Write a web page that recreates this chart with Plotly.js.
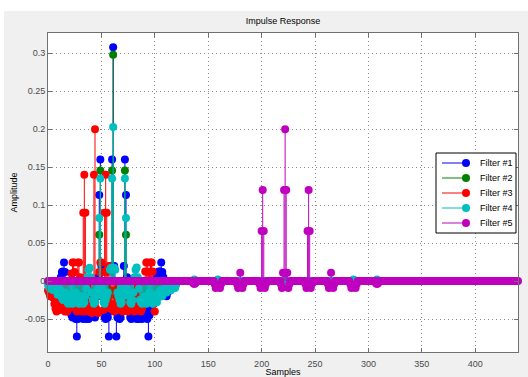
<!DOCTYPE html>
<html><head><meta charset="utf-8">
<script src="https://cdn.plot.ly/plotly-3.0.1.min.js"></script>
<style>
html,body{margin:0;padding:0;background:#ffffff;width:528px;height:377px;overflow:hidden}
#chart{position:absolute;left:4px;top:11px;width:524px;height:366px}
</style></head><body><div id="chart"></div>
<script>
// ---------- data ----------
const seriesNames = ['Filter #1', 'Filter #2', 'Filter #3', 'Filter #4', 'Filter #5'];
const seriesColors = ['#0000ff', '#008000', '#ff0000', '#00bfbf', '#bf00bf'];

const xTickVals = [0, 50, 100, 150, 200, 250, 300, 350, 400];
const yTickVals = [-0.05, 0, 0.05, 0.1, 0.15, 0.2, 0.25, 0.3];
const yTickText = ['-0.05', '0', '0.05', '0.1', '0.15', '0.2', '0.25', '0.3'];

// Filter #1 (blue), first sample index and values
const f1Start = 5;
const f1 = [-0.005,-0.01,-0.015,-0.015,-0.02,-0.012,-0.005,0.005,0.012,0.0127,0.0245,0.012,-0.01,-0.02,-0.03,-0.035,
  -0.04,-0.045,-0.048,-0.045,-0.048,-0.05,-0.073,-0.05,-0.045,-0.04,-0.042,-0.048,-0.05,-0.045,-0.048,-0.05,-0.048,-0.05,
  -0.045,-0.03,-0.02,-0.03,-0.045,-0.048,-0.04,-0.02,0.005,0.1135,0.16,0.02,-0.02,-0.04,-0.048,-0.05,-0.045,-0.048,-0.073,
  -0.04,0.02,0.16,0.308,0.02,-0.04,-0.073,-0.048,-0.045,-0.05,-0.048,-0.04,-0.02,0.02,0.16,0.1135,0.005,-0.02,-0.04,-0.048,
  -0.05,-0.045,-0.03,-0.04,-0.048,-0.05,-0.048,-0.05,-0.045,-0.048,-0.05,-0.045,-0.04,-0.042,-0.048,-0.05,-0.073,-0.045,
  -0.035,-0.025,-0.02,-0.03,-0.025,-0.01,0.005,0.012,0.0127,0.0127,0.0245,0.012,0.005,-0.005,-0.012,-0.02,-0.015,-0.008,
  -0.01,-0.009,-0.005];

// Filter #2 (green)
const f2Start = 8;
const f2 = [-0.005,-0.01,-0.015,-0.012,-0.008,-0.012,-0.018,-0.02,-0.015,-0.01,-0.015,-0.02,-0.022,-0.018,-0.012,-0.015,
  -0.02,-0.025,-0.02,-0.015,-0.018,-0.022,-0.025,-0.02,-0.015,-0.01,-0.018,-0.022,-0.025,-0.02,-0.012,-0.015,-0.02,-0.022,
  -0.018,-0.012,-0.015,-0.02,-0.018,-0.01,0.061,0.1455,-0.005,-0.015,-0.02,-0.022,-0.018,-0.012,-0.015,-0.02,-0.012,0.0,
  0.1455,0.298,0.0,-0.012,-0.02,-0.015,-0.012,-0.018,-0.022,-0.02,-0.015,-0.005,0.1455,0.061,-0.01,-0.018,-0.02,-0.015,
  -0.012,-0.018,-0.022,-0.025,-0.02,-0.015,-0.018,-0.022,-0.02,-0.015,-0.01,-0.015,-0.02,-0.022,-0.018,-0.012,-0.015,-0.02,
  -0.025,-0.02,-0.015,-0.01,-0.015,-0.018,-0.015,-0.01,-0.008,-0.012,-0.015,-0.01,-0.008,-0.01,-0.008,-0.005,-0.004];

// Filter #3 (red)
const f3Start = 0;
const f3 = [-0.012,-0.015,-0.02,-0.018,-0.015,-0.022,-0.03,-0.036,-0.04,-0.038,-0.035,-0.038,-0.03,-0.02,-0.025,-0.035,
  -0.04,-0.038,-0.04,-0.036,-0.03,-0.035,0.01,0.0245,0.0245,0.012,-0.035,-0.04,0.0245,0.0245,0.005,-0.038,-0.04,0.09,0.14,
  0.09,-0.04,-0.038,-0.035,-0.038,-0.04,-0.042,-0.036,0.14,0.2,-0.036,-0.04,-0.042,0.012,0.0245,0.0245,0.012,-0.038,0.09,
  0.14,0.09,0.012,0.02,-0.036,-0.03,-0.035,-0.038,-0.04,-0.038,-0.03,-0.035,-0.038,-0.036,-0.035,-0.038,-0.04,-0.036,-0.03,
  -0.035,-0.038,-0.04,-0.038,-0.034,-0.03,-0.034,-0.038,-0.04,-0.038,-0.034,-0.03,-0.035,-0.038,-0.04,-0.036,-0.03,0.0,
  0.0127,0.0245,0.0245,0.012,0.0127,0.0245,0.0245,0.0127,-0.03,-0.04];

// Filter #4 (cyan): dense head, then a long near-zero tail
const f4Start = 0;
const f4 = [-0.005,-0.008,-0.01,-0.006,-0.009,-0.012,-0.01,-0.006,-0.012,-0.018,-0.015,-0.01,-0.015,-0.022,-0.025,-0.02,
  -0.015,-0.022,-0.028,-0.03,-0.025,-0.018,-0.025,-0.03,-0.028,-0.02,-0.015,-0.022,-0.028,-0.03,-0.025,-0.02,-0.025,-0.03,
  -0.028,-0.02,-0.01,0.005,0.015,0.0175,0.005,-0.015,-0.025,-0.03,-0.028,-0.02,-0.015,-0.01,0.083,0.135,-0.01,-0.02,-0.028,
  -0.03,-0.025,-0.02,-0.015,0.0,0.015,0.0175,0.135,0.203,0.0175,0.015,0.0,-0.015,-0.02,-0.025,-0.03,-0.028,-0.02,-0.01,
  0.135,0.083,-0.01,-0.015,-0.02,-0.028,-0.03,-0.025,-0.015,0.005,0.015,0.018,0.005,-0.01,-0.025,-0.028,-0.03,-0.025,-0.02,
  -0.025,-0.03,-0.028,-0.022,-0.015,-0.02,-0.028,-0.03,-0.025,-0.018,-0.025,-0.028,-0.022,-0.015,-0.012,-0.018,-0.02,
  -0.015,-0.01,-0.012,-0.015,-0.012,-0.008,-0.01,-0.012,-0.01,-0.006,-0.008,-0.009,-0.005];
const f4TailEnd = 310;
const f4TailSamples = [137, 159, 222, 286, 308];
const f4TailValues  = [0.002, 0.002, 0.002, 0.002, 0.002];

// Filter #5 (magenta): samples 0..440, zero except the listed samples
const f5Length = 441;
const f5Samples = [136,137,138,
  156,157,158,159,160,161,162,
  177,178,179,180,181,182,183,
  198,199,200,201,202,203,204,
  218,219,220,221,222,223,224,225,226,
  241,242,243,244,245,246,247,
  262,263,264,265,266,267,268,
  283,284,285,286,287,288,289,
  307,308,309];
const f5Values = [-0.003,-0.004,-0.003,
  -0.004,-0.009,-0.007,-0.005,-0.007,-0.009,-0.004,
  -0.004,-0.009,-0.007,0.011,-0.007,-0.009,-0.004,
  -0.004,-0.009,0.066,0.12,0.066,-0.009,-0.004,
  -0.004,-0.009,0.011,0.12,0.2,0.12,0.011,-0.009,-0.004,
  -0.004,-0.009,0.066,0.12,0.066,-0.009,-0.004,
  -0.004,-0.009,-0.007,0.011,-0.007,-0.009,-0.004,
  -0.004,-0.009,-0.007,-0.005,-0.007,-0.009,-0.004,
  -0.003,-0.004,-0.003];

// ---------- build series ----------
function dense(start, vals) {
  return { x: vals.map((_, i) => start + i), y: vals.slice() };
}
function sparse(len, idx, vals) {
  const y = new Array(len).fill(0);
  idx.forEach((k, i) => { y[k] = vals[i]; });
  return { x: y.map((_, i) => i), y: y };
}
const s4 = dense(f4Start, f4);
const s4tail = sparse(f4TailEnd + 1, f4TailSamples, f4TailValues);
for (let k = s4.x.length; k <= f4TailEnd; k++) { s4.x.push(k); s4.y.push(s4tail.y[k]); }

const series = [dense(f1Start, f1), dense(f2Start, f2), dense(f3Start, f3), s4,
                sparse(f5Length, f5Samples, f5Values)];

const traces = [];
series.forEach((s, i) => {
  const sx = [], sy = [];
  s.x.forEach((xv, j) => {
    if (s.y[j] !== 0) { sx.push(xv, xv, null); sy.push(0, s.y[j], null); }
  });
  traces.push({ type: 'scatter', mode: 'lines', x: sx, y: sy, hoverinfo: 'skip',
    line: { color: seriesColors[i], width: 1 }, showlegend: false });
  traces.push({ type: 'scatter', mode: 'markers', x: s.x, y: s.y, name: seriesNames[i],
    marker: { color: seriesColors[i], size: 8, line: { width: 0 } }, cliponaxis: false, showlegend: false });
});

// ---------- custom MATLAB-like legend (page pixel -> paper) ----------
const PX0 = 48, PW = 470, PY1 = 352, PH = 319;
const px2x = p => (p - PX0) / PW;
const py2y = p => (PY1 - p) / PH;
const shapes = [{ type: 'rect', xref: 'paper', yref: 'paper',
  x0: px2x(436), x1: px2x(516), y0: py2y(233), y1: py2y(153),
  fillcolor: '#ffffff', line: { color: '#000000', width: 1 }, layer: 'above' }];
const annotations = [];
seriesNames.forEach((nm, i) => {
  const yy = py2y(163 + 15 * i);
  shapes.push({ type: 'line', xref: 'paper', yref: 'paper', x0: px2x(442), x1: px2x(466), y0: yy, y1: yy,
    line: { color: seriesColors[i], width: 1 }, layer: 'above' });
  shapes.push({ type: 'circle', xref: 'paper', yref: 'paper', xsizemode: 'pixel', ysizemode: 'pixel',
    xanchor: px2x(466), yanchor: yy, x0: -4, x1: 4, y0: -4, y1: 4,
    fillcolor: seriesColors[i], line: { width: 0 }, layer: 'above' });
  annotations.push({ xref: 'paper', yref: 'paper', x: px2x(478), y: yy, xanchor: 'left', yanchor: 'middle',
    text: nm, showarrow: false, font: { family: 'Liberation Sans, Arial, sans-serif', size: 9, color: '#000000' } });
});

const axisCommon = {
  showline: true, linecolor: '#707070', linewidth: 1, mirror: 'ticks',
  ticks: 'inside', ticklen: 4, tickcolor: '#707070',
  showgrid: true, gridcolor: '#8c8c8c', griddash: '1px,3px', gridwidth: 1,
  zeroline: false,
  tickfont: { family: 'Liberation Sans, Arial, sans-serif', size: 9, color: '#4a4a4a' }
};

const layout = {
  width: 524, height: 366,
  margin: { l: 44, r: 10, t: 22, b: 25 },
  paper_bgcolor: '#f0f0f0', plot_bgcolor: '#ffffff',
  showlegend: false,
  title: { text: 'Impulse Response', x: 0.5, xref: 'paper', y: 1 - 10 / 366, yref: 'container', yanchor: 'middle',
    font: { family: 'Liberation Sans, Arial, sans-serif', size: 9, color: '#000000' } },
  xaxis: Object.assign({}, axisCommon, { range: [0, 440], tickvals: xTickVals, ticklabelstandoff: 3,
    title: { text: 'Samples', standoff: 3, font: { family: 'Liberation Sans, Arial, sans-serif', size: 9, color: '#000000' } } }),
  yaxis: Object.assign({}, axisCommon, { range: [-0.0934, 0.3267], tickvals: yTickVals, ticktext: yTickText,
    title: { text: 'Amplitude', standoff: 5, font: { family: 'Liberation Sans, Arial, sans-serif', size: 9, color: '#000000' } } }),
  shapes: shapes, annotations: annotations
};

Plotly.newPlot('chart', traces, layout, { displayModeBar: false, staticPlot: true });
</script></body></html>
